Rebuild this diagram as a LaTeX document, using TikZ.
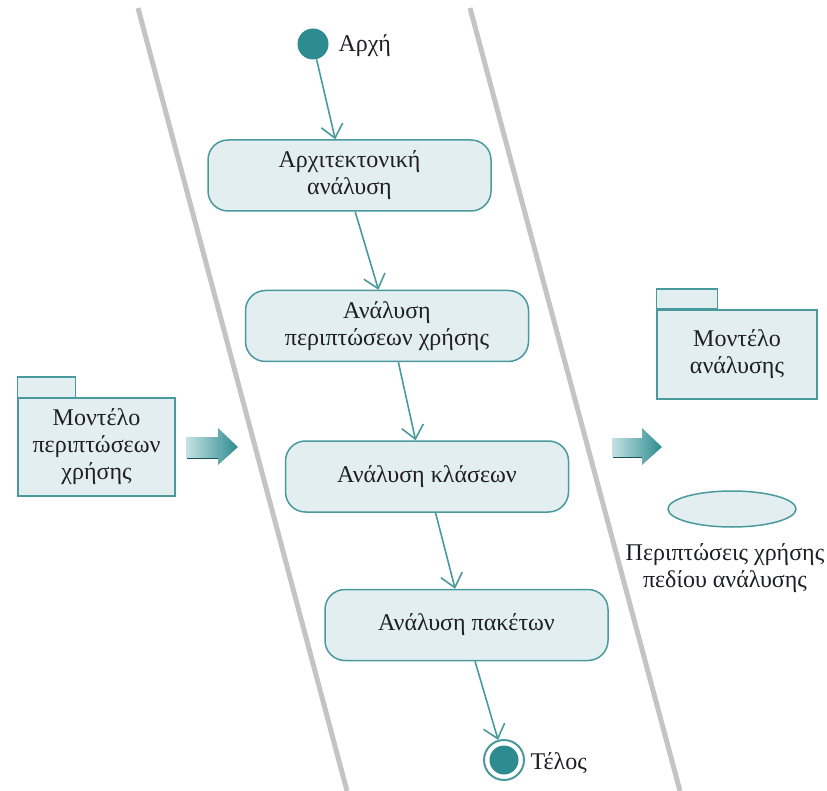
\documentclass[tikz,border=0pt]{standalone}
\usepackage{fontspec}
\setmainfont{Liberation Serif}
\usetikzlibrary{arrows.meta,shapes.geometric,calc}
\definecolor{tealdot}{HTML}{2E8B8F}
\definecolor{tealedge}{HTML}{4A9A9D}
\definecolor{boxfill}{HTML}{E3EEF1}
\definecolor{lanegray}{HTML}{C4C4C4}
\definecolor{arrowlight}{HTML}{C4E2E4}
\definecolor{txt}{HTML}{1E1E28}
\tikzset{
  txtfont/.style={font=\fontsize{24}{27}\selectfont, text=txt},
  lane/.style={draw=lanegray, line width=5pt},
  activity/.style={txtfont, draw=tealedge, fill=boxfill, rounded corners=20pt,
    line width=1.5pt, minimum width=283pt, minimum height=71pt, align=center,
    inner sep=0pt},
  flow/.style={draw=tealedge, line width=1.6pt,
    -{Straight Barb[length=13pt,width=22pt,line width=1.6pt]}},
  pkgbody/.style={txtfont, draw=tealedge, fill=boxfill, line width=1.5pt,
    align=center, inner sep=0pt},
  pkgtab/.style={draw=tealedge, fill=boxfill, line width=1.5pt},
  blockarrow/.style={left color=arrowlight, right color=tealdot},
}
\begin{document}
\begin{tikzpicture}[x=1pt,y=-1pt]
\useasboundingbox (0,0) rectangle (827,791);

% swimlane borders
\draw[lane] (138,8) -- (347,791);
\draw[lane] (470,8) -- (680,791);

% initial and final states
\node[circle, fill=tealdot, minimum size=31pt, inner sep=0pt] (start) at (313,44) {};
\node[txtfont, anchor=west] (startlbl) at (335,46) {Αρχή};

\node[circle, draw=tealedge, line width=2pt, fill=white, minimum size=40pt, inner sep=0pt] (stop) at (504,760) {};
\node[circle, fill=tealdot, minimum size=29pt, inner sep=0pt] (stopdot) at (stop.center) {};
\node[txtfont, anchor=west] (stoplbl) at (527,763) {Τέλος};

% activities
\node[activity] (arch) at (349.5,175.5) {Αρχιτεκτονική\\ανάλυση};
\node[activity] (uca) at (387,326) {Ανάλυση\\περιπτώσεων χρήσης};
\node[activity] (cls) at (427,476.5) {Ανάλυση κλάσεων};
\node[activity] (pkg) at (466.5,625) {Ανάλυση πακέτων};

% control flow
\draw[flow] (start) -- ($(arch.north west)!0.45!(arch.north east)$);
\draw[flow] ($(arch.south west)!0.52!(arch.south east)$) -- ($(uca.north west)!0.47!(uca.north east)$);
\draw[flow] ($(uca.south west)!0.54!(uca.south east)$) -- ($(cls.north west)!0.46!(cls.north east)$);
\draw[flow] ($(cls.south west)!0.53!(cls.south east)$) -- ($(pkg.north west)!0.46!(pkg.north east)$);
\draw[flow] ($(pkg.south west)!0.53!(pkg.south east)$) -- (stop);

% input package
\node[pkgbody, minimum width=157pt, minimum height=98pt] (inpkg) at (96.5,447)
  {Μοντέλο\\περιπτώσεων\\χρήσης};
\draw[pkgtab] (inpkg.north west) rectangle ++(58,-20);

% output package
\node[pkgbody, minimum width=160pt, minimum height=89pt] (outpkg) at (737,354.5)
  {Μοντέλο\\ανάλυσης};
\draw[pkgtab] (outpkg.north west) rectangle ++(61,-20);

% domain use cases
\node[ellipse, draw=tealedge, fill=boxfill, line width=1.5pt,
  minimum width=128pt, minimum height=36pt] (domuc) at (732,509) {};
\node[txtfont, align=center] (domlbl) at (725,568)
  {Περιπτώσεις χρήσης\\πεδίου ανάλυσης};

% input and output block arrows
\shade[blockarrow] (186,437) -- (218,437) -- (218,428) -- (238,447)
  -- (218,465) -- (218,458) -- (186,458) -- cycle;
\draw[tealdot!60!black, line width=1pt] (187,458) -- (218,458);
\shade[blockarrow] (612,438) -- (642,438) -- (642,428) -- (662,447)
  -- (642,465) -- (642,457) -- (612,457) -- cycle;
\draw[tealdot!60!black, line width=1pt] (613,457) -- (642,457);
\end{tikzpicture}
\end{document}
